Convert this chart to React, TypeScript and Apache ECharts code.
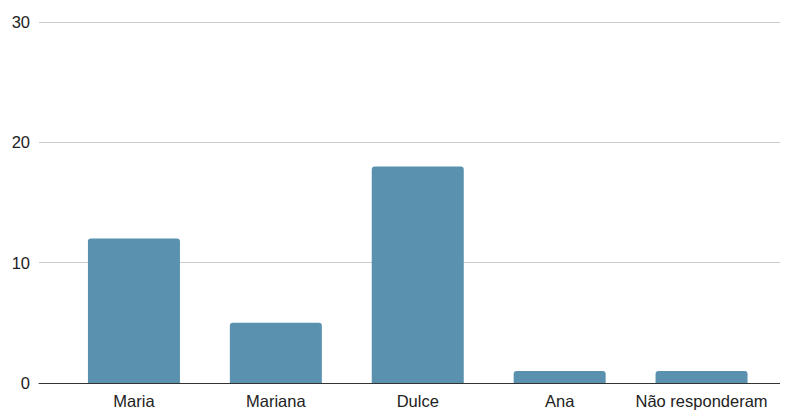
import React, { useEffect, useRef } from "react";
import * as echarts from "echarts";

const categories = ["Maria", "Mariana", "Dulce", "Ana", "Não responderam"];
const counts = [12, 5, 18, 1, 1];
const yMin = 0;
const yMax = 30;
const yStep = 10;

const FONT = "'Liberation Sans', Arial, sans-serif";

export default function App() {
  const ref = useRef<HTMLDivElement>(null);

  useEffect(() => {
    if (!ref.current) return;
    const chart = echarts.init(ref.current, undefined, { renderer: "svg" });
    chart.setOption({
      animation: false,
      backgroundColor: "#ffffff",
      grid: [
        // full-width frame: value gridlines and baseline
        { left: 39, right: 0, top: 22, bottom: 30 },
        // inset area holding the bars
        { left: 63, right: 15.5, top: 22, bottom: 30 },
      ],
      xAxis: [
        {
          gridIndex: 0,
          type: "value",
          min: 0,
          max: 1,
          axisLine: { show: true, onZero: false, lineStyle: { color: "#333333", width: 1 } },
          axisTick: { show: false },
          axisLabel: { show: false },
          splitLine: { show: false },
        },
        {
          gridIndex: 1,
          type: "category",
          data: categories,
          axisLine: { show: false },
          axisTick: { show: false },
          axisLabel: {
            color: "#222222",
            fontSize: 16.5,
            fontFamily: FONT,
            margin: 9,
            interval: 0,
          },
        },
      ],
      yAxis: [
        {
          gridIndex: 0,
          type: "value",
          min: yMin,
          max: yMax,
          interval: yStep,
          axisLine: { show: false },
          axisTick: { show: false },
          axisLabel: { color: "#222222", fontSize: 16.5, fontFamily: FONT, margin: 9 },
          splitLine: { lineStyle: { color: "#cccccc", width: 1 } },
        },
        {
          gridIndex: 1,
          type: "value",
          min: yMin,
          max: yMax,
          interval: yStep,
          show: false,
          splitLine: { show: false },
        },
      ],
      series: [
        {
          type: "bar",
          xAxisIndex: 1,
          yAxisIndex: 1,
          data: counts,
          barWidth: 92,
          itemStyle: { color: "#5a91ae", borderRadius: [3, 3, 0, 0] },
          z: 1,
        },
      ],
    });
    return () => chart.dispose();
  }, []);

  return <div ref={ref} style={{ width: 788, height: 413, marginLeft: -8, marginTop: -8 }} />;
}
